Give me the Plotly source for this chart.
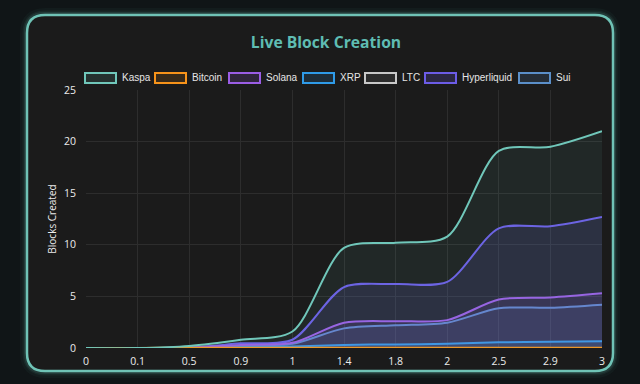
import plotly.graph_objects as go

labels = ["0", "0.1", "0.5", "0.9", "1", "1.4", "1.8", "2", "2.5", "2.9", "3"]
kaspa = [0, 0, 0.2, 0.8, 1.6, 9.7, 10.2, 10.8, 19.1, 19.5, 21.0]
bitcoin = [0, 0, 0.03, 0.03, 0.03, 0.03, 0.03, 0.03, 0.03, 0.03, 0.03]
solana = [0, 0, 0.05, 0.3, 0.5, 2.45, 2.6, 2.7, 4.7, 4.9, 5.3]
xrp = [0, 0, 0.02, 0.1, 0.15, 0.3, 0.35, 0.4, 0.55, 0.6, 0.65]
ltc = [0, 0, 0, 0, 0, 0, 0, 0, 0, 0, 0]
hyperliquid = [0, 0, 0.05, 0.45, 0.8, 5.9, 6.2, 6.4, 11.6, 11.8, 12.7]
sui = [0, 0, 0.05, 0.25, 0.4, 1.9, 2.2, 2.45, 3.85, 3.9, 4.2]

names = ["Kaspa", "Bitcoin", "Solana", "XRP", "LTC", "Hyperliquid", "Sui"]
values = [kaspa, bitcoin, solana, xrp, ltc, hyperliquid, sui]
colors = ["#70C7BA", "#F7931A", "#9B5DE5", "#2F9BE8", "#C8C8C8", "#6C5CE7", "#5B8FC9"]
fills = ["rgba(112,199,186,0.08)", "rgba(247,147,26,0.10)", "rgba(155,93,229,0.12)",
         "rgba(47,155,232,0.12)", "rgba(200,200,200,0.10)", "rgba(108,92,231,0.14)",
         "rgba(91,143,201,0.12)"]
legend_fills = ["rgba(112,199,186,0.13)", "rgba(247,147,26,0.13)", "rgba(155,93,229,0.16)",
                "rgba(47,155,232,0.14)", "rgba(200,200,200,0.10)", "rgba(108,92,231,0.20)",
                "rgba(91,143,201,0.16)"]
legend_box_x = [84, 154, 228, 302, 364, 424, 518]

W, H = 640, 384
L, R, T, B = 86, 38, 90, 36
pw, ph = W - L - R, H - T - B

def px(x):
    return (x - L) / pw

def py(y):
    return (H - B - y) / ph

def rrect(x0, y0, x1, y1, r):
    pts = [
        f"M{px(x0+r)},{py(y0)}", f"L{px(x1-r)},{py(y0)}",
        f"Q{px(x1)},{py(y0)} {px(x1)},{py(y0+r)}", f"L{px(x1)},{py(y1-r)}",
        f"Q{px(x1)},{py(y1)} {px(x1-r)},{py(y1)}", f"L{px(x0+r)},{py(y1)}",
        f"Q{px(x0)},{py(y1)} {px(x0)},{py(y1-r)}", f"L{px(x0)},{py(y0+r)}",
        f"Q{px(x0)},{py(y0)} {px(x0+r)},{py(y0)}", "Z",
    ]
    return " ".join(pts)

fig = go.Figure()
for i in reversed(range(len(names))):
    fig.add_trace(go.Scatter(
        x=labels, y=values[i], name=names[i], mode="lines", showlegend=False,
        line=dict(color=colors[i], width=2, shape="spline", smoothing=0.8),
        fill="tozeroy", fillcolor=fills[i],
    ))

shapes = []
card = (27, 15, 613, 371, 18)
for w, a in [(14, 0.04), (9, 0.07), (6, 0.12)]:
    shapes.append(dict(type="path", path=rrect(*card), xref="paper", yref="paper",
                       line=dict(color=f"rgba(112,199,186,{a})", width=w), layer="below"))
shapes.append(dict(type="path", path=rrect(*card), xref="paper", yref="paper",
                   fillcolor="#1b1b1b", line=dict(color="#6fc3b6", width=2.5), layer="below"))

annotations = []
for i, name in enumerate(names):
    bx = legend_box_x[i]
    shapes.append(dict(type="rect", xref="paper", yref="paper",
                       x0=px(bx + 1), x1=px(bx + 32), y0=py(73), y1=py(83),
                       line=dict(color=colors[i], width=2), fillcolor=legend_fills[i],
                       layer="above"))
    annotations.append(dict(text=name, xref="paper", yref="paper", x=px(bx + 36), y=py(77.5),
                            xanchor="left", yanchor="middle", showarrow=False,
                            font=dict(size=10, color="#e6e6e6", family="Liberation Sans, Arial, sans-serif")))

fig.update_layout(
    width=W, height=H,
    margin=dict(l=L, r=R, t=T, b=B),
    paper_bgcolor="#101517",
    plot_bgcolor="rgba(0,0,0,0)",
    font=dict(family="Open Sans, sans-serif", color="#e6e6e6", size=10),
    title=dict(text="<b>Live Block Creation</b>", x=326 / W, xref="container", xanchor="center",
               y=1 - 43 / H, yref="container", yanchor="middle",
               font=dict(size=15.7, color="#5fbdb3", family="Open Sans, sans-serif")),
    showlegend=False,
    xaxis=dict(type="category", range=[0, 10], showgrid=True, gridcolor="#2d2d2d",
               zeroline=False, showline=False, ticks="", ticklabelstandoff=5,
               tickfont=dict(size=10.5, color="#ececec")),
    yaxis=dict(range=[0, 25], dtick=5, showgrid=True, gridcolor="#2d2d2d", zeroline=False,
               ticks="", ticklabelstandoff=9, tickfont=dict(size=10.5, color="#ececec"),
               title=dict(text="Blocks Created", font=dict(size=10, color="#ececec"), standoff=5)),
    shapes=shapes,
    annotations=annotations,
)

fig.write_html("out.html")
